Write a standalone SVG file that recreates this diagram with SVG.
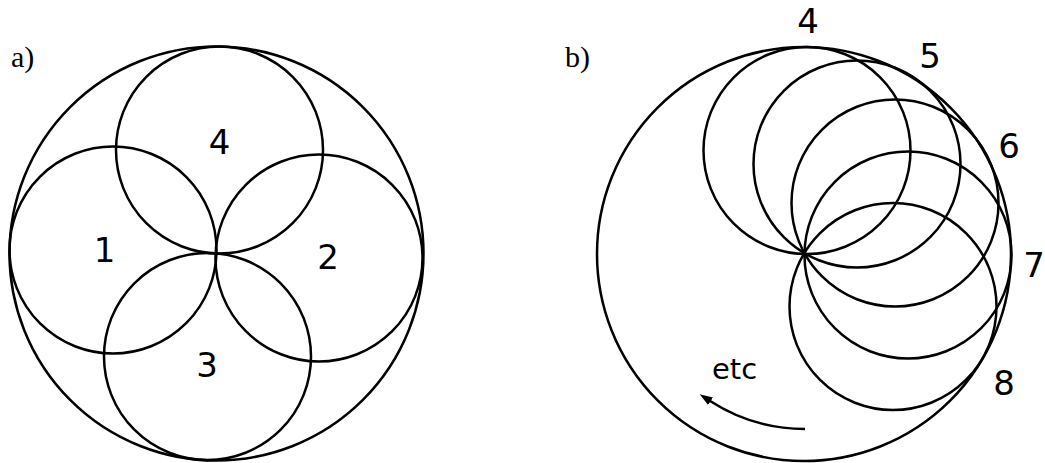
<svg xmlns="http://www.w3.org/2000/svg" width="1045" height="463" viewBox="0 0 1045 463">
<style>
.c{fill:none;stroke:#000;stroke-width:2.5}
.n{font-family:"DejaVu Sans",Verdana,sans-serif;font-size:34px;fill:#000;text-anchor:middle}
.e{font-family:"DejaVu Sans",Verdana,sans-serif;font-size:29px;fill:#000}
.lab{font-family:"Liberation Serif","Times New Roman",serif;font-size:30px;fill:#000}
</style>
<defs>
<marker id="ah" markerUnits="userSpaceOnUse" markerWidth="16" markerHeight="12" viewBox="0 -6 16 12" refX="1" refY="0" orient="auto">
<path d="M0,-4.5 L13,0 L0,4.5 z" fill="#000"/>
</marker>
</defs>
<rect width="1045" height="463" fill="#fff"/>
<g id="panel-a">
<text class="lab" x="11" y="67">a)</text>
<circle id="a-outer" class="c" cx="216.5" cy="253.5" r="207"/>
<g id="a1"><circle class="c" cx="113" cy="250" r="103.5"/><text class="n" x="104.5" y="262">1</text></g>
<g id="a2"><circle class="c" cx="319" cy="258" r="103.5"/><text class="n" x="328" y="269">2</text></g>
<g id="a3"><circle class="c" cx="207.5" cy="356.5" r="103.5"/><text class="n" x="207" y="377">3</text></g>
<g id="a4"><circle class="c" cx="219.5" cy="150" r="103.5"/><text class="n" x="219.5" y="154">4</text></g>
</g>
<g id="panel-b">
<text class="lab" x="565" y="67">b)</text>
<circle id="b-outer" class="c" cx="804" cy="254" r="207"/>
<g id="b4"><circle class="c" cx="807" cy="150.5" r="103.5"/><text class="n" x="808" y="33">4</text></g>
<g id="b5"><circle class="c" cx="857" cy="164" r="103.5"/><text class="n" x="930" y="68">5</text></g>
<g id="b6"><circle class="c" cx="895" cy="203" r="103.5"/><text class="n" x="1009" y="158">6</text></g>
<g id="b7"><circle class="c" cx="908" cy="255" r="103.5"/><text class="n" x="1034" y="277">7</text></g>
<g id="b8"><circle class="c" cx="893" cy="306.5" r="103.5"/><text class="n" x="1004" y="395">8</text></g>
<text class="e" x="712" y="379">etc</text>
</g>
<g id="connectors">
<path class="c" d="M805,429 A175,175 0 0 1 709.7,400.8" marker-end="url(#ah)"/>
</g>
</svg>
